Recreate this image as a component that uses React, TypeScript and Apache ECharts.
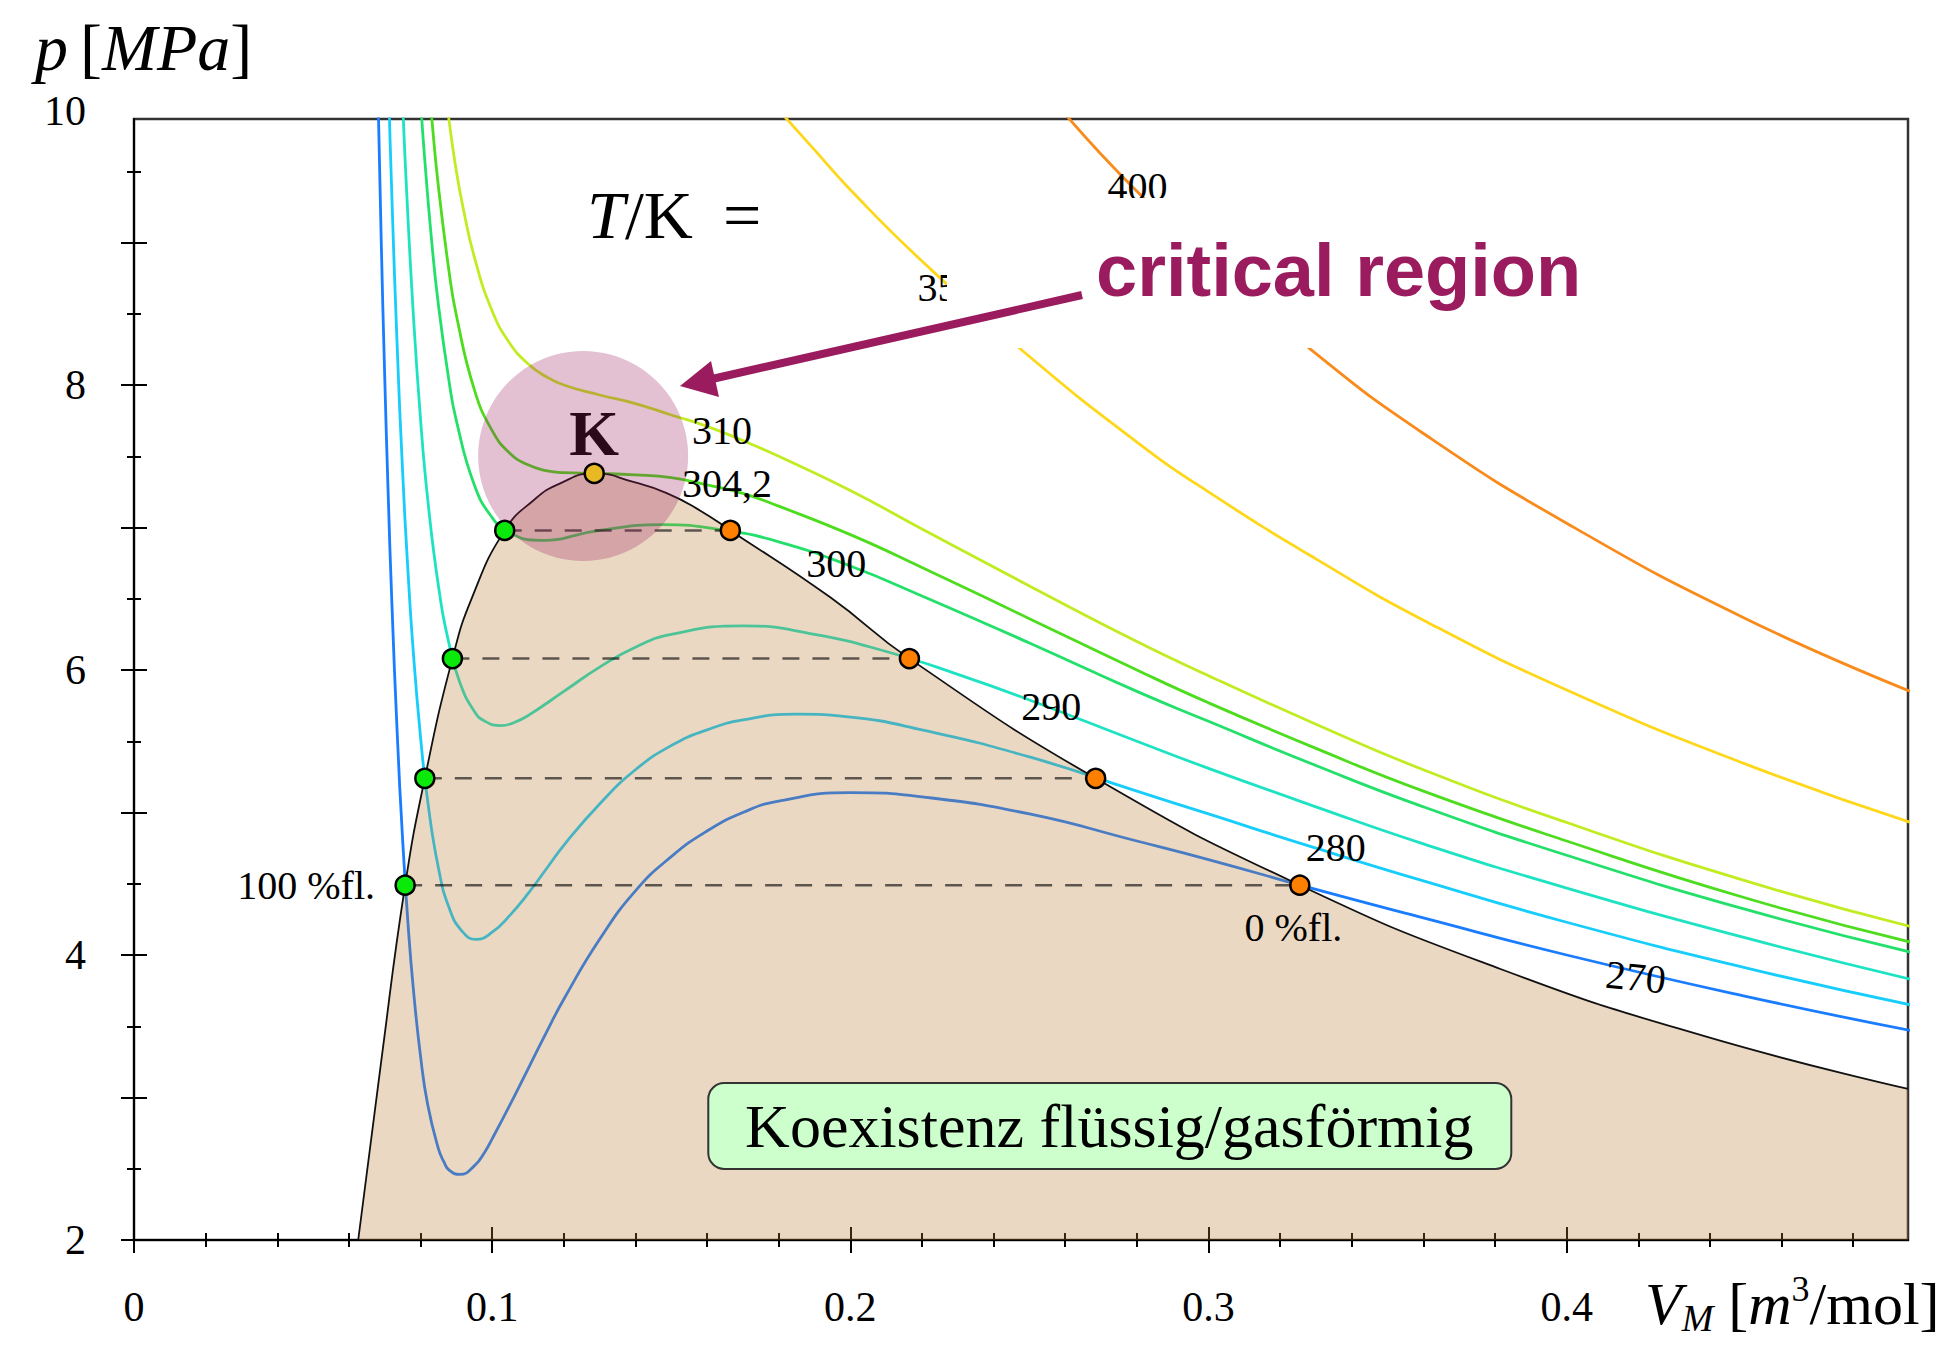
import React, { useEffect, useRef } from 'react';
import * as echarts from 'echarts';

// ---- axis ranges and ticks ----
const X_MAX = 0.4953;
const Y_MIN = 2;
const Y_MAX = 9.867;

const xLabelValues = [0, 0.1, 0.2, 0.3, 0.4];
const xTickLabels = ['0', '0.1', '0.2', '0.3', '0.4'];
const xMajorTicks = [0, 0.1, 0.2, 0.3, 0.4];
const xMinorTicks = [0.02, 0.04, 0.06, 0.08, 0.12, 0.14, 0.16, 0.18, 0.22, 0.24, 0.26, 0.28, 0.32, 0.34, 0.36, 0.38, 0.42, 0.44, 0.46, 0.48];

const yLabelValues = [2, 4, 6, 8, Y_MAX];
const yTickLabels = ['2', '4', '6', '8', '10'];
const yMajorTicks = [2, 3, 4, 5, 6, 7, 8, 9];
const yMinorTicks = [2.5, 3.5, 4.5, 5.5, 6.5, 7.5, 8.5, 9.5];

// ---- isotherms: molar volume and pressure [MPa] ----
const v270 = [0.068, 0.069, 0.07, 0.071, 0.072, 0.0735, 0.075, 0.0765, 0.078, 0.08, 0.082, 0.085, 0.0865, 0.088, 0.091, 0.095, 0.098, 0.1, 0.105, 0.11, 0.115, 0.12, 0.13, 0.14, 0.15, 0.16, 0.17, 0.18, 0.2, 0.22, 0.25, 0.28, 0.3, 0.33, 0.36, 0.4, 0.45, 0.496];
const p270 = [10.18, 9.04, 8.06, 7.21, 6.47, 5.55, 4.81, 4.22, 3.76, 3.29, 2.95, 2.64, 2.55, 2.49, 2.46, 2.52, 2.62, 2.71, 2.95, 3.2, 3.45, 3.69, 4.11, 4.45, 4.69, 4.87, 5.0, 5.08, 5.14, 5.11, 4.99, 4.8, 4.67, 4.46, 4.26, 4.0, 3.71, 3.47];

const v280 = [0.07, 0.071, 0.072, 0.0735, 0.075, 0.0765, 0.078, 0.08, 0.082, 0.085, 0.088, 0.0915, 0.0955, 0.1, 0.105, 0.11, 0.115, 0.12, 0.13, 0.14, 0.15, 0.16, 0.17, 0.185, 0.2, 0.22, 0.25, 0.28, 0.3, 0.33, 0.36, 0.4, 0.45, 0.496];
const p280 = [11.12, 10.16, 9.32, 8.26, 7.39, 6.69, 6.12, 5.53, 5.08, 4.61, 4.33, 4.17, 4.11, 4.16, 4.28, 4.43, 4.6, 4.77, 5.06, 5.3, 5.47, 5.58, 5.65, 5.69, 5.67, 5.58, 5.39, 5.15, 4.99, 4.75, 4.52, 4.23, 3.91, 3.65];

const v290 = [0.074, 0.075, 0.076, 0.078, 0.08, 0.082, 0.085, 0.088, 0.091, 0.095, 0.098, 0.1025, 0.106, 0.11, 0.12, 0.13, 0.14, 0.15, 0.17, 0.19, 0.21, 0.23, 0.25, 0.28, 0.3, 0.33, 0.36, 0.4, 0.45, 0.496];
const p290 = [10.63, 9.99, 9.42, 8.49, 7.76, 7.2, 6.59, 6.18, 5.91, 5.71, 5.64, 5.61, 5.63, 5.68, 5.85, 6.02, 6.16, 6.25, 6.31, 6.25, 6.13, 5.97, 5.79, 5.5, 5.31, 5.04, 4.78, 4.47, 4.12, 3.83];

const v300 = [0.08, 0.081, 0.083, 0.085, 0.088, 0.09, 0.095, 0.1, 0.105, 0.1135, 0.13, 0.1475, 0.165, 0.18, 0.2, 0.22, 0.25, 0.28, 0.3, 0.33, 0.36, 0.4, 0.45, 0.496];
const p300 = [10.0, 9.64, 9.04, 8.56, 8.02, 7.75, 7.3, 7.07, 6.96, 6.91, 6.98, 7.02, 6.98, 6.9, 6.73, 6.52, 6.19, 5.85, 5.64, 5.33, 5.04, 4.7, 4.32, 4.02];

const v304 = [0.082, 0.083, 0.085, 0.088, 0.09, 0.095, 0.1, 0.105, 0.11, 0.115, 0.12, 0.1285, 0.14, 0.15, 0.16, 0.17, 0.18, 0.2, 0.22, 0.25, 0.28, 0.3, 0.33, 0.36, 0.4, 0.45, 0.496];
const p304 = [10.21, 9.91, 9.39, 8.79, 8.49, 7.97, 7.68, 7.52, 7.44, 7.4, 7.385, 7.38, 7.37, 7.35, 7.3, 7.24, 7.15, 6.95, 6.72, 6.36, 6.0, 5.77, 5.45, 5.15, 4.8, 4.4, 4.09];

const v310 = [0.087, 0.088, 0.09, 0.092, 0.095, 0.1, 0.105, 0.11, 0.115, 0.12, 0.13, 0.14, 0.15, 0.16, 0.17, 0.18, 0.2, 0.22, 0.25, 0.28, 0.3, 0.33, 0.36, 0.4, 0.45, 0.496];
const p310 = [10.06, 9.85, 9.5, 9.23, 8.9, 8.52, 8.29, 8.15, 8.06, 8.0, 7.93, 7.87, 7.79, 7.71, 7.61, 7.5, 7.26, 6.99, 6.59, 6.2, 5.96, 5.62, 5.3, 4.93, 4.52, 4.2];

const v350 = [0.18, 0.19, 0.2, 0.22, 0.25, 0.28, 0.3, 0.33, 0.36, 0.4, 0.45, 0.496];
const p350 = [9.93, 9.65, 9.37, 8.87, 8.2, 7.6, 7.25, 6.78, 6.35, 5.86, 5.34, 4.93];

const v400 = [0.26, 0.27, 0.28, 0.3, 0.33, 0.36, 0.4, 0.45, 0.496];
const p400 = [9.9, 9.62, 9.36, 8.87, 8.22, 7.66, 7.03, 6.36, 5.85];

// ---- coexistence dome (binodal) ----
const domeV = [0.0626, 0.069, 0.0757, 0.0812, 0.0889, 0.0944, 0.1035, 0.1115, 0.119, 0.1285, 0.1394, 0.1489, 0.158, 0.1665, 0.1944, 0.2165, 0.2685, 0.3255, 0.3817, 0.4385, 0.4953];
const domeP = [2.0, 3.25, 4.49, 5.24, 6.08, 6.51, 6.98, 7.19, 7.31, 7.38, 7.32, 7.24, 7.12, 6.98, 6.51, 6.08, 5.24, 4.49, 3.9, 3.43, 3.06];

// ---- tie lines: saturated liquid / vapour volumes at each vapour pressure ----
const tiePressures = [4.49, 5.24, 6.08, 6.98];
const tieLiquidV = [0.0757, 0.0812, 0.0889, 0.1035];
const tieGasV = [0.3255, 0.2685, 0.2165, 0.1665];

// critical point
const criticalV = 0.1285;
const criticalP = 7.38;

const SERIF = "'Liberation Serif', 'DejaVu Serif', serif";
const SANS = "'Liberation Sans', Arial, sans-serif";
const MAGENTA = '#9b1b5f';

const isotherms = [
  { name: '270', v: v270, p: p270, color: '#1a7cff' },
  { name: '280', v: v280, p: p280, color: '#16cdfc' },
  { name: '290', v: v290, p: p290, color: '#1ee3c2' },
  { name: '300', v: v300, p: p300, color: '#22e06a' },
  { name: '304,2', v: v304, p: p304, color: '#4ddc1e' },
  { name: '310', v: v310, p: p310, color: '#c2ec22' },
  { name: '350', v: v350, p: p350, color: '#ffd71a' },
  { name: '400', v: v400, p: p400, color: '#f98b1c' },
];

// label anchors in data space (centre of the text)
const curveLabels = [
  { text: '310', v: 0.1642, p: 7.684, rot: 0 },
  { text: '304,2', v: 0.1656, p: 7.312, rot: 0 },
  { text: '300', v: 0.1961, p: 6.751, rot: 0 },
  { text: '290', v: 0.2561, p: 5.747, rot: 0 },
  { text: '280', v: 0.3355, p: 4.751, rot: 0 },
  { text: '270', v: 0.4193, p: 3.846, rot: -0.1 },
  { text: '350', v: 0.2271, p: 8.681, rot: 0 },
  { text: '400', v: 0.2802, p: 9.396, rot: 0 },
];

const zip = (a: number[], b: number[]) => a.map((x, i) => [x, b[i]]);

function tickAxis(kind: 'x' | 'y', values: number[], length: number, inside: boolean, main: boolean) {
  const isX = kind === 'x';
  const base: any = {
    type: 'value',
    min: isX ? 0 : Y_MIN,
    max: isX ? X_MAX : Y_MAX,
    position: isX ? 'bottom' : 'left',
    splitLine: { show: false },
    axisTick: { show: true, inside, length, customValues: values, lineStyle: { color: '#000', width: 2 } },
    axisLine: { show: false },
    axisLabel: { show: false },
  };
  if (main) {
    base.axisLine = { show: true, lineStyle: { color: '#000', width: 2 } };
    base.axisLabel = isX
      ? {
          show: true,
          customValues: xLabelValues,
          margin: 46,
          color: '#000',
          fontFamily: SERIF,
          fontSize: 42,
          formatter: (val: number) => {
            const i = xLabelValues.findIndex((x) => Math.abs(x - val) < 1e-6);
            return i >= 0 ? xTickLabels[i] : '';
          },
        }
      : {
          show: true,
          customValues: yLabelValues,
          margin: 48,
          color: '#000',
          fontFamily: SERIF,
          fontSize: 42,
          formatter: (val: number) => {
            const i = yLabelValues.findIndex((y) => Math.abs(y - val) < 1e-6);
            const s = i >= 0 ? yTickLabels[i] : '';
            return Math.abs(val - Y_MAX) < 1e-6 ? `{top|${s}}` : s;
          },
          rich: {
            top: { fontFamily: SERIF, fontSize: 42, color: '#000', padding: [0, 0, 16, 0] },
          },
        };
  }
  return base;
}

function buildOption(): any {
  const series: any[] = [];

  isotherms.forEach((iso) => {
    series.push({
      type: 'line',
      name: iso.name,
      data: zip(iso.v, iso.p),
      showSymbol: false,
      smooth: true,
      clip: true,
      silent: true,
      z: 2,
      lineStyle: { color: iso.color, width: 2.8 },
    });
  });

  // two-phase region: translucent fill laid over the isotherm loops
  series.push({
    type: 'line',
    name: 'binodal',
    data: zip(domeV, domeP),
    showSymbol: false,
    smooth: true,
    clip: true,
    silent: true,
    z: 3,
    lineStyle: { color: '#111', width: 1.8 },
    areaStyle: { color: 'rgba(185,125,55,0.3)', opacity: 1, origin: 'start' },
  });

  tiePressures.forEach((p, i) => {
    series.push({
      type: 'line',
      data: [[tieLiquidV[i], p], [tieGasV[i], p]],
      showSymbol: false,
      silent: true,
      z: 4,
      lineStyle: { color: 'rgba(0,0,0,0.6)', width: 2.5, type: [17, 13] },
    });
  });

  const pointStyle = (color: string) => ({
    type: 'scatter',
    symbol: 'circle',
    symbolSize: 19,
    silent: true,
    z: 7,
    itemStyle: { color, borderColor: '#000', borderWidth: 2.5, opacity: 1 },
  });
  series.push({ ...pointStyle('#0be90b'), data: zip(tieLiquidV, tiePressures) });
  series.push({ ...pointStyle('#ff7f00'), data: zip(tieGasV, tiePressures) });
  series.push({ ...pointStyle('#e8b923'), data: [[criticalV, criticalP]] });

  return {
    animation: false,
    backgroundColor: '#fff',
    grid: {
      left: 134,
      right: 49,
      top: 119,
      bottom: 106,
      show: true,
      borderColor: '#333',
      borderWidth: 2.5,
      backgroundColor: 'transparent',
    },
    xAxis: [
      tickAxis('x', xMinorTicks, 7, false, true),
      tickAxis('x', xMinorTicks, 7, true, false),
      tickAxis('x', xMajorTicks, 13, false, false),
      tickAxis('x', xMajorTicks, 13, true, false),
    ],
    yAxis: [
      tickAxis('y', yMinorTicks, 7, false, true),
      tickAxis('y', yMinorTicks, 7, true, false),
      tickAxis('y', yMajorTicks, 13, false, false),
      tickAxis('y', yMajorTicks, 13, true, false),
    ],
    series,
  };
}

function buildGraphics(px: (v: number, p: number) => number[]): any[] {
  const g: any[] = [];

  // critical point "K" and the highlight disc around it
  const k = px(0.1285, 7.663);
  g.push({
    type: 'text', x: k[0], y: k[1], z: 5, silent: true,
    style: { text: 'K', font: `bold 64px ${SERIF}`, fill: '#000', align: 'center', verticalAlign: 'middle' },
  });
  const c = px(0.1254, 7.502);
  g.push({
    type: 'circle', z: 6, silent: true,
    shape: { cx: c[0], cy: c[1], r: 105 },
    style: { fill: 'rgba(155,27,95,0.28)' },
  });

  // temperature labels on the isotherms
  curveLabels.forEach((l) => {
    const q = px(l.v, l.p);
    g.push({
      type: 'text', x: q[0], y: q[1], rotation: l.rot, z: 8, silent: true,
      style: { text: l.text, font: `40px ${SERIF}`, fill: '#000', align: 'center', verticalAlign: 'middle' },
    });
  });

  const liq = px(0.0673, 4.491);
  g.push({
    type: 'text', x: liq[0], y: liq[1], z: 8, silent: true,
    style: { text: '100 %fl.', font: `40px ${SERIF}`, fill: '#000', align: 'right', verticalAlign: 'middle' },
  });
  const gas = px(0.3237, 4.19);
  g.push({
    type: 'text', x: gas[0], y: gas[1], z: 8, silent: true,
    style: { text: '0 %fl.', font: `40px ${SERIF}`, fill: '#000', align: 'center', verticalAlign: 'middle' },
  });

  const tk = px(0.1265, 9.193);
  g.push({
    type: 'text', x: tk[0], y: tk[1], z: 8, silent: true,
    style: {
      text: '{i|T}{n|/K}{e|=}',
      verticalAlign: 'middle',
      align: 'left',
      rich: {
        i: { fontFamily: SERIF, fontStyle: 'italic', fontSize: 68, fill: '#000', color: '#000' },
        n: { fontFamily: SERIF, fontSize: 68, fill: '#000', color: '#000' },
        e: { fontFamily: SERIF, fontSize: 68, fill: '#000', color: '#000', padding: [0, 0, 0, 30] },
      },
    },
  });

  // coexistence box
  const box = px(0.2723, 2.8);
  g.push({
    type: 'rect', z: 8, silent: true,
    shape: { x: box[0] - 401, y: box[1] - 43, width: 803, height: 86, r: 16 },
    style: { fill: '#ccffcc', stroke: '#333', lineWidth: 2 },
  });
  g.push({
    type: 'text', x: box[0], y: box[1], z: 8, silent: true,
    style: { text: 'Koexistenz flüssig/gasförmig', font: `62px ${SERIF}`, fill: '#000', align: 'center', verticalAlign: 'middle' },
  });

  // axis titles
  g.push({
    type: 'text', x: 35, y: 47, z: 8, silent: true,
    style: {
      text: '{p|p}{n|[}{i|MPa}{n|]}',
      verticalAlign: 'middle',
      rich: {
        p: { fontFamily: SERIF, fontStyle: 'italic', fontSize: 66, fill: '#000', color: '#000', padding: [0, 12, 0, 0] },
        i: { fontFamily: SERIF, fontStyle: 'italic', fontSize: 66, fill: '#000', color: '#000' },
        n: { fontFamily: SERIF, fontSize: 66, fill: '#000', color: '#000' },
      },
    },
  });
  g.push({
    type: 'text', x: 1645, y: 1304, z: 8, silent: true,
    style: {
      text: '{i|V}{sub|M}{n| [}{i|m}{sup|3}{n|/mol]}',
      verticalAlign: 'middle',
      rich: {
        i: { fontFamily: SERIF, fontStyle: 'italic', fontSize: 60, fill: '#000', color: '#000', lineHeight: 66, verticalAlign: 'middle' },
        n: { fontFamily: SERIF, fontSize: 60, fill: '#000', color: '#000', lineHeight: 66, verticalAlign: 'middle' },
        sub: { fontFamily: SERIF, fontStyle: 'italic', fontSize: 38, fill: '#000', color: '#000', lineHeight: 66, verticalAlign: 'bottom' },
        sup: { fontFamily: SERIF, fontSize: 36, fill: '#000', color: '#000', lineHeight: 66, verticalAlign: 'top' },
      },
    },
  });

  // callout: blank panel, caption and arrow
  g.push({
    type: 'rect', z: 9, silent: true,
    shape: { x: 947, y: 198, width: 700, height: 150 },
    style: { fill: '#fff' },
  });
  g.push({
    type: 'text', x: 1096, y: 270, z: 10, silent: true,
    style: { text: 'critical region', font: `bold 74px ${SANS}`, fill: MAGENTA, align: 'left', verticalAlign: 'middle' },
  });
  g.push({
    type: 'line', z: 10, silent: true,
    shape: { x1: 1082, y1: 295, x2: 712, y2: 379 },
    style: { stroke: MAGENTA, lineWidth: 8 },
  });
  g.push({
    type: 'polygon', z: 10, silent: true,
    shape: { points: [[680, 386], [711, 361], [719, 397]] },
    style: { fill: MAGENTA },
  });

  return g;
}

export default function App() {
  const ref = useRef<HTMLDivElement>(null);

  useEffect(() => {
    if (!ref.current) return;
    const chart = echarts.init(ref.current, null, { renderer: 'svg' });
    chart.setOption(buildOption());
    const px = (v: number, p: number) =>
      chart.convertToPixel({ xAxisIndex: 0, yAxisIndex: 0 } as any, [v, p]) as number[];
    chart.setOption({ graphic: buildGraphics(px) });
    return () => chart.dispose();
  }, []);

  return (
    <div
      ref={ref}
      style={{ position: 'fixed', left: 0, top: 0, width: 1957, height: 1346, background: '#fff' }}
    />
  );
}
